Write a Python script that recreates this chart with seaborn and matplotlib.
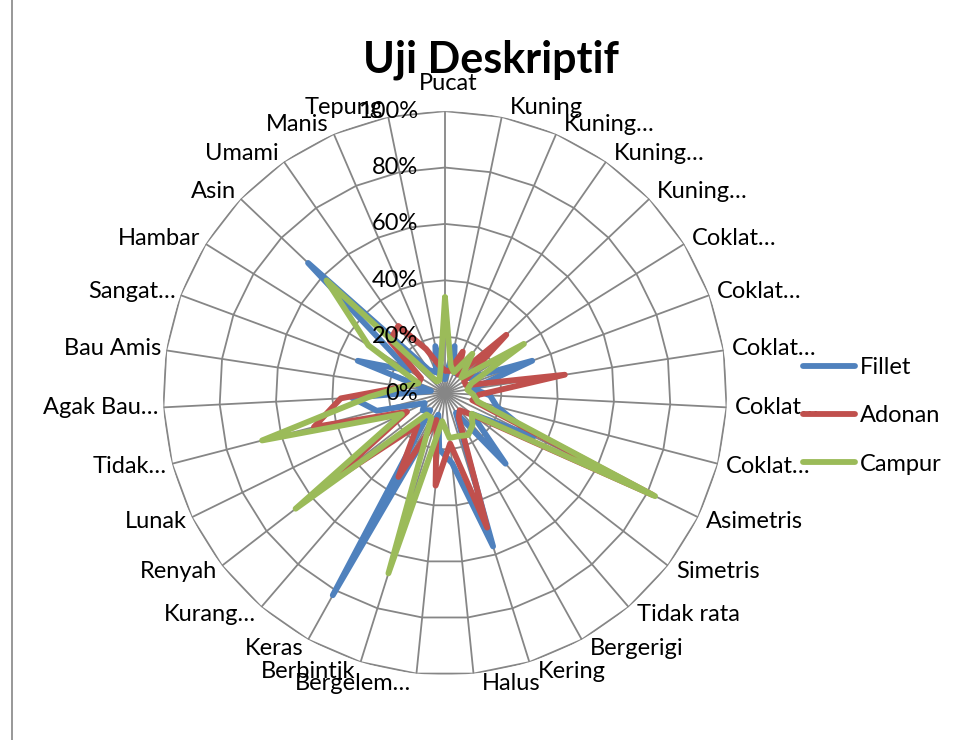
import numpy as np
import pandas as pd
import matplotlib
matplotlib.use("Agg")
import matplotlib.pyplot as plt
from matplotlib.lines import Line2D
import seaborn as sns

# Tampilan
sns.set_theme(style="white")
plt.rcParams['font.family'] = ['Lato', 'DejaVu Sans']
plt.rcParams['text.color'] = 'black'

# 1. DATA
kategori = ['Pucat', 'Kuning', 'Kuning…', 'Kuning…', 'Kuning…',
            'Coklat…', 'Coklat…', 'Coklat…', 'Coklat…', 'Coklat…',
            'Asimetris', 'Simetris', 'Tidak rata', 'Bergerigi', 'Kering',
            'Halus', 'Bergelem…', 'Berbintik', 'Keras', 'Kurang…',
            'Renyah', 'Lunak', 'Tidak…', 'Agak Bau…', 'Bau Amis',
            'Sangat…', 'Hambar', 'Asin', 'Umami', 'Manis', 'Tepung']

fillet = [0.05, 0.17, 0.08, 0.08, 0.10, 0.10, 0.33, 0.10, 0.16, 0.19,
          0.35, 0.12, 0.33, 0.08, 0.57, 0.25, 0.20, 0.08, 0.82, 0.08,
          0.10, 0.08, 0.25, 0.33, 0.05, 0.33, 0.15, 0.67, 0.10, 0.08, 0.17]
adonan = [0.08, 0.08, 0.16, 0.08, 0.30, 0.08, 0.08, 0.43, 0.12, 0.10,
          0.82, 0.13, 0.08, 0.10, 0.50, 0.18, 0.33, 0.10, 0.34, 0.15,
          0.52, 0.15, 0.48, 0.37, 0.15, 0.10, 0.10, 0.27, 0.29, 0.17, 0.10]
campur = [0.34, 0.10, 0.08, 0.17, 0.08, 0.33, 0.10, 0.08, 0.10, 0.12,
          0.83, 0.12, 0.15, 0.17, 0.16, 0.16, 0.10, 0.67, 0.10, 0.10,
          0.67, 0.17, 0.67, 0.27, 0.15, 0.10, 0.32, 0.58, 0.05, 0.05, 0.08]

seri = ['Fillet', 'Adonan', 'Campur']
warna = ['#4F81BD', '#C0504D', '#9BBB59']
ticks = [0, 0.2, 0.4, 0.6, 0.8, 1.0]
tick_labels = ['0%', '20%', '40%', '60%', '80%', '100%']

n = len(kategori)
sudut = np.linspace(0, 2 * np.pi, n, endpoint=False)
sudut_tutup = np.append(sudut, 2 * np.pi)

# tabel panjang, titik pertama diulang di akhir supaya poligon tertutup
rows = []
for nama, nilai in zip(seri, [fillet, adonan, campur]):
    for k in range(n + 1):
        rows.append({'seri': nama, 'theta': sudut_tutup[k], 'nilai': nilai[k % n]})
df = pd.DataFrame(rows)

# 2. GRAFIK
fig = plt.figure(figsize=(9.59, 7.40), dpi=100)
ax = fig.add_axes([0.170, 0.0878, 0.588, 0.762], projection='polar')
ax.set_theta_zero_location('N')
ax.set_theta_direction(-1)
ax.grid(False)
ax.spines['polar'].set_visible(False)

# grid segi banyak ala Excel
grid_c = '#868686'
for t in ticks[1:]:
    ax.plot(sudut_tutup, [t] * (n + 1), color=grid_c, lw=1.3, zorder=1)
for a in sudut:
    ax.plot([a, a], [0, 1], color=grid_c, lw=1.3, zorder=1)

lebar = 4.2
sns.lineplot(data=df, x='theta', y='nilai', hue='seri', hue_order=seri,
             palette=warna, sort=False, estimator=None, lw=lebar,
             solid_capstyle='round', solid_joinstyle='round',
             legend=False, ax=ax, zorder=3)

ax.set_ylim(0, 1)
ax.set_xticks([])
ax.set_yticks([])
ax.set_xlabel('')
ax.set_ylabel('')

fs = 17
# label kategori
for a, lab in zip(sudut, kategori):
    s, c = np.sin(a), np.cos(a)
    if abs(s) < 0.05:
        ax.annotate(lab, xy=(a, 1.0), xytext=(3, 17), textcoords='offset pixels',
                    ha='center', va='bottom', fontsize=fs, annotation_clip=False)
        continue
    if s > 0:
        ha, dx = 'left', 8
    else:
        ha, dx = 'right', -5
    ax.annotate(lab, xy=(a, 1.0), xytext=(dx, 10 * c), textcoords='offset pixels',
                ha=ha, va='center', fontsize=fs, annotation_clip=False)

# label persen di sumbu tegak
for t, lab in zip(ticks, tick_labels):
    ax.annotate(lab, xy=(0, t), xytext=(-27, 0), textcoords='offset pixels',
                ha='right', va='center', fontsize=fs, annotation_clip=False, zorder=5)

fig.text(491 / 959, 1 - 60 / 740, 'Uji Deskriptif', ha='center', va='center',
         fontsize=31, fontweight='bold')

handles = [Line2D([], [], color=c, lw=lebar, solid_capstyle='round') for c in warna]
fig.legend(handles, seri, loc='center left', bbox_to_anchor=(782 / 959, 1 - 416 / 740),
           frameon=False, fontsize=fs, handlelength=2.2, handletextpad=0.2,
           labelspacing=1.15)

fig.add_artist(Line2D([12 / 959, 12 / 959], [0, 1], transform=fig.transFigure,
                      color='#868686', lw=1.2))

fig.savefig('out.png', dpi=100, facecolor='white')
